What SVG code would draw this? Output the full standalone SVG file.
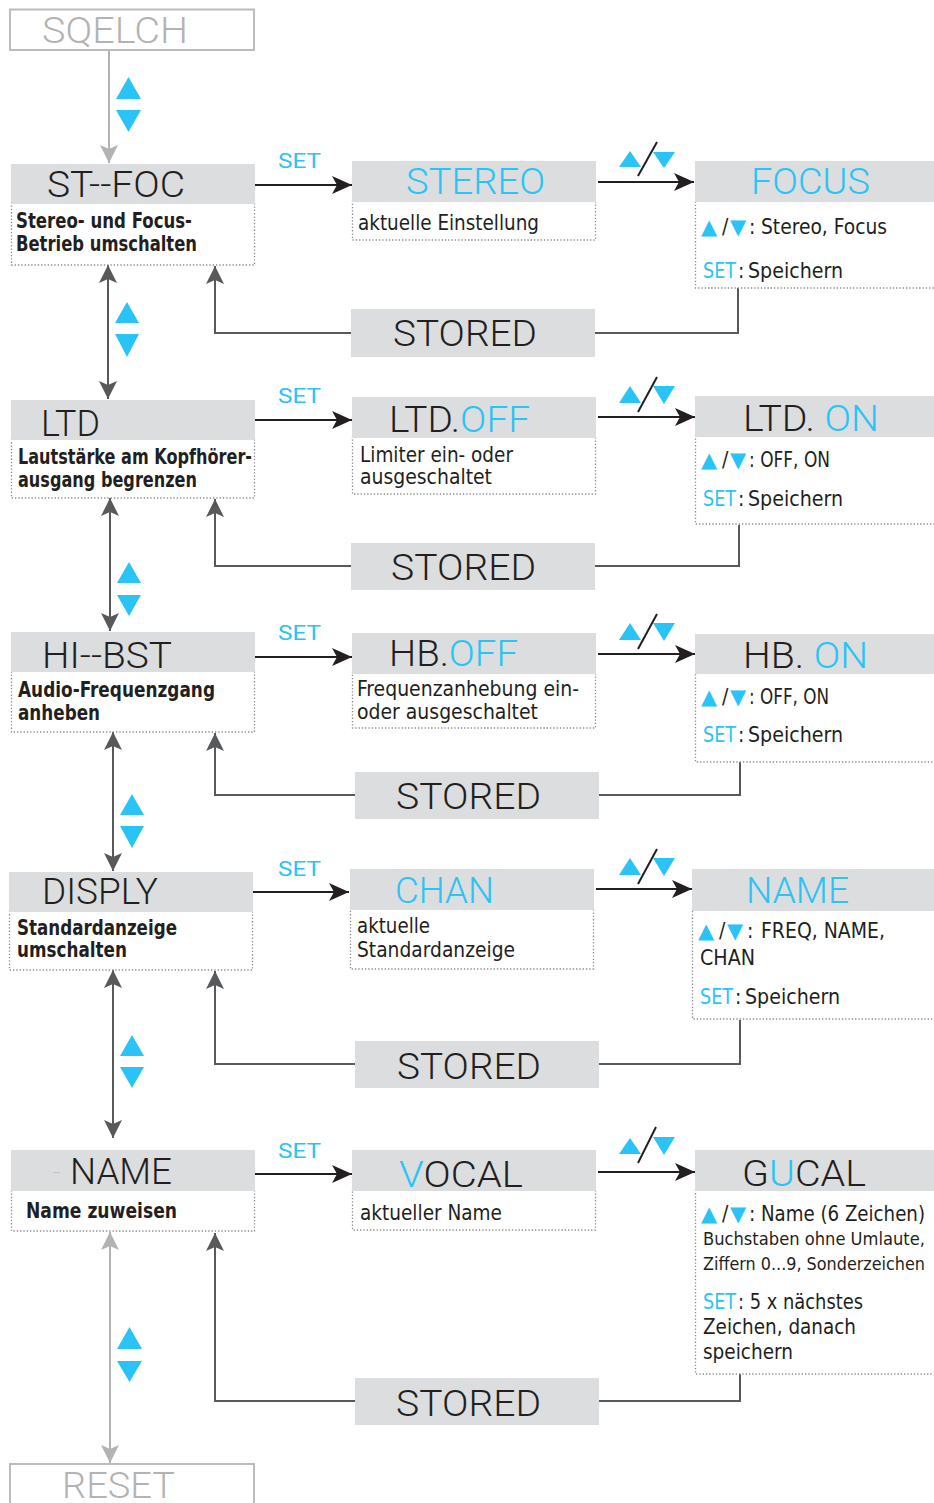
<svg xmlns="http://www.w3.org/2000/svg" width="934" height="1503" viewBox="0 0 934 1503">
<style>
.hd{font-family:Roboto,"Liberation Sans",sans-serif;font-weight:300;font-size:37px;fill:#231f20}
.gr{fill:#b3b3b3}
.t{font-family:"Liberation Sans Narrow","DejaVu Sans Condensed","Liberation Sans",sans-serif;font-size:21px;fill:#231f20}
.tb{font-family:"Liberation Sans Narrow","DejaVu Sans Condensed","Liberation Sans",sans-serif;font-size:22px;font-weight:bold;fill:#231f20}
.ts{font-family:"Liberation Sans Narrow","DejaVu Sans Condensed","Liberation Sans",sans-serif;font-size:18.5px;fill:#231f20}
.sym{font-family:"DejaVu Sans",sans-serif;font-size:21px;fill:#29c4f5}
.set{font-family:Roboto,"Liberation Sans",sans-serif;font-weight:400;font-size:21px;fill:#29c4f5}
.hbox{fill:#dcdddf}
.dbox{fill:none;stroke:#8c8c8c;stroke-width:1.3;stroke-dasharray:1.3 2}
.obox{fill:none;stroke:#bcbcbc;stroke-width:2}
.ab{stroke:#231f20;stroke-width:2.2;fill:none;marker-end:url(#ahB)}
.ag{stroke:#58595b;stroke-width:2;fill:none}
.al{stroke:#b3b3b3;stroke-width:2;fill:none}
.tri{fill:#29c4f5}
.sl{stroke:#231f20;stroke-width:2}
.b{fill:#29c4f5}
</style>
<defs>
<marker id="ahB" viewBox="0 0 20 18" refX="20" refY="9" markerWidth="20" markerHeight="18" orient="auto" markerUnits="userSpaceOnUse"><path d="M0,0 L20,9 L0,18 L5,9 z" fill="#231f20"/></marker>
<marker id="ahG" viewBox="0 0 18 18" refX="18" refY="9" markerWidth="18" markerHeight="18" orient="auto-start-reverse" markerUnits="userSpaceOnUse"><path d="M0,0 L18,9 L0,18 L4,9 z" fill="#58595b"/></marker>
<marker id="ahL" viewBox="0 0 18 18" refX="18" refY="9" markerWidth="18" markerHeight="18" orient="auto-start-reverse" markerUnits="userSpaceOnUse"><path d="M0,0 L18,9 L0,18 L4,9 z" fill="#b3b3b3"/></marker>
</defs>
<rect width="934" height="1503" fill="#ffffff"/>

<g id="connectors">
<line class="al" x1="109" y1="50" x2="109" y2="163" marker-end="url(#ahL)"/>
<line class="ag" x1="108" y1="265" x2="108" y2="399" marker-start="url(#ahG)" marker-end="url(#ahG)"/>
<line class="ag" x1="110" y1="498" x2="110" y2="631" marker-start="url(#ahG)" marker-end="url(#ahG)"/>
<line class="ag" x1="113" y1="732" x2="113" y2="871" marker-start="url(#ahG)" marker-end="url(#ahG)"/>
<line class="ag" x1="113" y1="970" x2="113" y2="1138" marker-start="url(#ahG)" marker-end="url(#ahG)"/>
<line class="al" x1="110" y1="1232" x2="110" y2="1463" marker-start="url(#ahL)" marker-end="url(#ahL)"/>

<line class="ab" x1="255" y1="185" x2="352" y2="185"/>
<line class="ab" x1="598" y1="182" x2="694" y2="182"/>
<line class="ab" x1="255" y1="420" x2="352" y2="420"/>
<line class="ab" x1="598" y1="417" x2="695" y2="417"/>
<line class="ab" x1="255" y1="657" x2="352" y2="657"/>
<line class="ab" x1="598" y1="654" x2="695" y2="654"/>
<line class="ab" x1="253" y1="892" x2="349" y2="892"/>
<line class="ab" x1="596" y1="889" x2="692" y2="889"/>
<line class="ab" x1="255" y1="1174" x2="352" y2="1174"/>
<line class="ab" x1="598" y1="1172" x2="695" y2="1172"/>

<path class="ag" d="M738,288 V333 H595"/>
<path class="ag" d="M351,333 H215 V266" marker-end="url(#ahG)"/>
<path class="ag" d="M739,525 V566 H595"/>
<path class="ag" d="M351,566 H215 V499" marker-end="url(#ahG)"/>
<path class="ag" d="M740,762 V795 H599"/>
<path class="ag" d="M355,795 H215 V733" marker-end="url(#ahG)"/>
<path class="ag" d="M740,1020 V1064 H599"/>
<path class="ag" d="M355,1064 H215 V971" marker-end="url(#ahG)"/>
<path class="ag" d="M740,1374 V1401 H599"/>
<path class="ag" d="M355,1401 H215 V1233" marker-end="url(#ahG)"/>

<text class="set" x="278" y="168" textLength="43" lengthAdjust="spacingAndGlyphs">SET</text>
<text class="set" x="278" y="403" textLength="43" lengthAdjust="spacingAndGlyphs">SET</text>
<text class="set" x="278" y="640" textLength="43" lengthAdjust="spacingAndGlyphs">SET</text>
<text class="set" x="278" y="876" textLength="43" lengthAdjust="spacingAndGlyphs">SET</text>
<text class="set" x="278" y="1158" textLength="43" lengthAdjust="spacingAndGlyphs">SET</text>

<polygon class="tri" points="116,99 128.5,77 141,99"/>
<polygon class="tri" points="116,110 141,110 128.5,132"/>
<polygon class="tri" points="115,323 127,302 139,323"/>
<polygon class="tri" points="115,334 139,334 127,357"/>
<polygon class="tri" points="117,583 129,562 141,583"/>
<polygon class="tri" points="117,595 141,595 129,616"/>
<polygon class="tri" points="120,815 132,794 144,815"/>
<polygon class="tri" points="120,826 144,826 132,848"/>
<polygon class="tri" points="120,1056 132,1035 144,1056"/>
<polygon class="tri" points="120,1067 144,1067 132,1088"/>
<polygon class="tri" points="117,1349 129.5,1327 142,1349"/>
<polygon class="tri" points="117,1361 142,1361 129.5,1382"/>

<polygon class="tri" points="619,167 630,151 641,167"/>
<polygon class="tri" points="653,152 675,152 664,168"/>
<line class="sl" x1="638" y1="176" x2="657" y2="142"/>
<polygon class="tri" points="619,403 630,386 641,403"/>
<polygon class="tri" points="653,386 675,386 664,404"/>
<line class="sl" x1="638" y1="412" x2="657" y2="377"/>
<polygon class="tri" points="619,640 630,623 641,640"/>
<polygon class="tri" points="653,623 675,623 664,641"/>
<line class="sl" x1="638" y1="649" x2="657" y2="614"/>
<polygon class="tri" points="619,875 630,858 641,875"/>
<polygon class="tri" points="653,858 675,858 664,876"/>
<line class="sl" x1="638" y1="884" x2="657" y2="849"/>
<polygon class="tri" points="619,1154 630,1138 641,1154"/>
<polygon class="tri" points="653,1137 675,1137 664,1155"/>
<line class="sl" x1="638" y1="1163" x2="656" y2="1127"/>
</g>

<g id="sqelch">
<rect class="obox" x="10" y="9.5" width="244" height="40.5"/>
<text class="hd gr" x="42" y="43" textLength="146" lengthAdjust="spacingAndGlyphs">SQELCH</text>
</g>

<g id="st-foc">
<rect class="dbox" x="11.5" y="202" width="243" height="63"/>
<rect class="hbox" x="11" y="164" width="244" height="40"/>
<text class="hd" x="47" y="197" textLength="138" lengthAdjust="spacingAndGlyphs">ST--FOC</text>
<text class="tb" x="16" y="228" textLength="176" lengthAdjust="spacingAndGlyphs">Stereo- und Focus-</text>
<text class="tb" x="16" y="251" textLength="181" lengthAdjust="spacingAndGlyphs">Betrieb umschalten</text>
</g>

<g id="stereo">
<rect class="dbox" x="352.5" y="200" width="243" height="40"/>
<rect class="hbox" x="352" y="161" width="244" height="41"/>
<text class="hd b" x="406" y="194" textLength="139" lengthAdjust="spacingAndGlyphs">STEREO</text>
<text class="t" x="358" y="230" textLength="181" lengthAdjust="spacingAndGlyphs">aktuelle Einstellung</text>
</g>

<g id="focus">
<rect class="dbox" x="695.5" y="200" width="250" height="88"/>
<rect class="hbox" x="695" y="161" width="240" height="41"/>
<text class="hd b" x="751" y="194" textLength="119" lengthAdjust="spacingAndGlyphs">FOCUS</text>
<text class="sym" x="701" y="234">▲</text>
<text class="t" x="722" y="234">/</text>
<text class="sym" x="730" y="234">▼</text>
<text class="t" x="749" y="234">:</text>
<text class="t" x="761" y="234" textLength="126" lengthAdjust="spacingAndGlyphs">Stereo, Focus</text>
<text class="t b" x="703" y="278" textLength="33" lengthAdjust="spacingAndGlyphs">SET</text>
<text class="t" x="738" y="278">:</text>
<text class="t" x="748" y="278" textLength="95" lengthAdjust="spacingAndGlyphs">Speichern</text>
</g>

<g id="stored-1">
<rect class="hbox" x="351" y="309" width="244" height="48"/>
<text class="hd" x="393" y="346" textLength="144" lengthAdjust="spacingAndGlyphs">STORED</text>
</g>

<g id="ltd">
<rect class="dbox" x="11.5" y="438" width="243" height="60"/>
<rect class="hbox" x="11" y="400" width="244" height="40"/>
<text class="hd" x="41" y="436" textLength="59" lengthAdjust="spacingAndGlyphs">LTD</text>
<text class="tb" x="18" y="464" textLength="234" lengthAdjust="spacingAndGlyphs">Lautstärke am Kopfhörer-</text>
<text class="tb" x="18" y="487" textLength="179" lengthAdjust="spacingAndGlyphs">ausgang begrenzen</text>
</g>

<g id="ltd-off">
<rect class="dbox" x="352.5" y="436" width="243" height="58"/>
<rect class="hbox" x="352" y="397" width="244" height="41"/>
<text class="hd" x="389" y="432" textLength="141" lengthAdjust="spacingAndGlyphs">LTD.<tspan class="b">OFF</tspan></text>
<text class="t" x="360" y="462" textLength="153" lengthAdjust="spacingAndGlyphs">Limiter ein- oder</text>
<text class="t" x="360" y="484" textLength="132" lengthAdjust="spacingAndGlyphs">ausgeschaltet</text>
</g>

<g id="ltd-on">
<rect class="dbox" x="695.5" y="435" width="250" height="89"/>
<rect class="hbox" x="695" y="396" width="240" height="41"/>
<text class="hd" x="743" y="431" textLength="136" lengthAdjust="spacingAndGlyphs">LTD. <tspan class="b">ON</tspan></text>
<text class="sym" x="701" y="467">▲</text>
<text class="t" x="722" y="467">/</text>
<text class="sym" x="730" y="467">▼</text>
<text class="t" x="749" y="467" textLength="81" lengthAdjust="spacingAndGlyphs">: OFF, ON</text>
<text class="t b" x="703" y="506" textLength="33" lengthAdjust="spacingAndGlyphs">SET</text>
<text class="t" x="738" y="506">:</text>
<text class="t" x="748" y="506" textLength="95" lengthAdjust="spacingAndGlyphs">Speichern</text>
</g>

<g id="stored-2">
<rect class="hbox" x="351" y="543" width="244" height="47"/>
<text class="hd" x="391" y="580" textLength="145" lengthAdjust="spacingAndGlyphs">STORED</text>
</g>

<g id="hi-bst">
<rect class="dbox" x="11.5" y="670" width="243" height="62"/>
<rect class="hbox" x="11" y="632" width="244" height="40"/>
<text class="hd" x="42" y="668" textLength="130" lengthAdjust="spacingAndGlyphs">HI--BST</text>
<text class="tb" x="18" y="697" textLength="197" lengthAdjust="spacingAndGlyphs">Audio-Frequenzgang</text>
<text class="tb" x="18" y="720" textLength="82" lengthAdjust="spacingAndGlyphs">anheben</text>
</g>

<g id="hb-off">
<rect class="dbox" x="352.5" y="672" width="243" height="56"/>
<rect class="hbox" x="352" y="633" width="244" height="41"/>
<text class="hd" x="389" y="666" textLength="129" lengthAdjust="spacingAndGlyphs">HB.<tspan class="b">OFF</tspan></text>
<text class="t" x="357" y="696" textLength="222" lengthAdjust="spacingAndGlyphs">Frequenzanhebung ein-</text>
<text class="t" x="357" y="719" textLength="181" lengthAdjust="spacingAndGlyphs">oder ausgeschaltet</text>
</g>

<g id="hb-on">
<rect class="dbox" x="695.5" y="672" width="250" height="90"/>
<rect class="hbox" x="695" y="634" width="240" height="40"/>
<text class="hd" x="743" y="668" textLength="125" lengthAdjust="spacingAndGlyphs">HB. <tspan class="b">ON</tspan></text>
<text class="sym" x="701" y="704">▲</text>
<text class="t" x="722" y="704">/</text>
<text class="sym" x="730" y="704">▼</text>
<text class="t" x="749" y="704" textLength="80" lengthAdjust="spacingAndGlyphs">: OFF, ON</text>
<text class="t b" x="703" y="742" textLength="33" lengthAdjust="spacingAndGlyphs">SET</text>
<text class="t" x="738" y="742">:</text>
<text class="t" x="748" y="742" textLength="95" lengthAdjust="spacingAndGlyphs">Speichern</text>
</g>

<g id="stored-3">
<rect class="hbox" x="355" y="772" width="244" height="47"/>
<text class="hd" x="396" y="809" textLength="145" lengthAdjust="spacingAndGlyphs">STORED</text>
</g>

<g id="disply">
<rect class="dbox" x="9.5" y="910" width="243" height="60"/>
<rect class="hbox" x="9" y="872" width="244" height="40"/>
<text class="hd" x="42" y="904" textLength="116" lengthAdjust="spacingAndGlyphs">DISPLY</text>
<text class="tb" x="17" y="935" textLength="160" lengthAdjust="spacingAndGlyphs">Standardanzeige</text>
<text class="tb" x="17" y="957" textLength="110" lengthAdjust="spacingAndGlyphs">umschalten</text>
</g>

<g id="chan">
<rect class="dbox" x="350.5" y="908" width="243" height="61"/>
<rect class="hbox" x="350" y="869" width="244" height="41"/>
<text class="hd b" x="395" y="903" textLength="99" lengthAdjust="spacingAndGlyphs">CHAN</text>
<text class="t" x="357" y="933" textLength="73" lengthAdjust="spacingAndGlyphs">aktuelle</text>
<text class="t" x="357" y="957" textLength="158" lengthAdjust="spacingAndGlyphs">Standardanzeige</text>
</g>

<g id="name-sel">
<rect class="dbox" x="692.5" y="909" width="253" height="110"/>
<rect class="hbox" x="692" y="869" width="243" height="42"/>
<text class="hd b" x="746" y="903" textLength="103" lengthAdjust="spacingAndGlyphs">NAME</text>
<text class="sym" x="698" y="938">▲</text>
<text class="t" x="719" y="938">/</text>
<text class="sym" x="727" y="938">▼</text>
<text class="t" x="747" y="938">:</text>
<text class="t" x="761" y="938" textLength="124" lengthAdjust="spacingAndGlyphs">FREQ, NAME,</text>
<text class="t" x="700" y="965" textLength="55" lengthAdjust="spacingAndGlyphs">CHAN</text>
<text class="t b" x="700" y="1004" textLength="33" lengthAdjust="spacingAndGlyphs">SET</text>
<text class="t" x="735" y="1004">:</text>
<text class="t" x="745" y="1004" textLength="95" lengthAdjust="spacingAndGlyphs">Speichern</text>
</g>

<g id="stored-4">
<rect class="hbox" x="355" y="1041" width="244" height="47"/>
<text class="hd" x="397" y="1079" textLength="144" lengthAdjust="spacingAndGlyphs">STORED</text>
</g>

<g id="name">
<rect class="dbox" x="11.5" y="1189" width="243" height="42"/>
<rect class="hbox" x="11" y="1150" width="244" height="41"/>
<rect x="53" y="1172" width="7" height="1.2" fill="#c9c9c9"/>
<text class="hd" x="70" y="1184" textLength="102" lengthAdjust="spacingAndGlyphs">NAME</text>
<text class="tb" x="26" y="1218" textLength="151" lengthAdjust="spacingAndGlyphs">Name zuweisen</text>
</g>

<g id="vocal">
<rect class="dbox" x="352.5" y="1189" width="243" height="41"/>
<rect class="hbox" x="352" y="1150" width="244" height="41"/>
<text class="hd" x="399" y="1187" textLength="124" lengthAdjust="spacingAndGlyphs"><tspan class="b">V</tspan>OCAL</text>
<text class="t" x="360" y="1220" textLength="142" lengthAdjust="spacingAndGlyphs">aktueller Name</text>
</g>

<g id="gucal">
<rect class="dbox" x="695.5" y="1189" width="250" height="185"/>
<rect class="hbox" x="695" y="1150" width="240" height="41"/>
<text class="hd" x="742" y="1186" textLength="124" lengthAdjust="spacingAndGlyphs">G<tspan class="b">U</tspan>CAL</text>
<text class="sym" x="701" y="1221">▲</text>
<text class="t" x="722" y="1221">/</text>
<text class="sym" x="730" y="1221">▼</text>
<text class="t" x="749" y="1221">:</text>
<text class="t" x="761" y="1221" textLength="164" lengthAdjust="spacingAndGlyphs">Name (6 Zeichen)</text>
<text class="ts" x="703" y="1245" textLength="222" lengthAdjust="spacingAndGlyphs">Buchstaben ohne Umlaute,</text>
<text class="ts" x="703" y="1270" textLength="222" lengthAdjust="spacingAndGlyphs">Ziffern 0...9, Sonderzeichen</text>
<text class="t b" x="703" y="1309" textLength="33" lengthAdjust="spacingAndGlyphs">SET</text>
<text class="t" x="738" y="1309" textLength="125" lengthAdjust="spacingAndGlyphs">: 5 x nächstes</text>
<text class="t" x="703" y="1334" textLength="153" lengthAdjust="spacingAndGlyphs">Zeichen, danach</text>
<text class="t" x="703" y="1359" textLength="90" lengthAdjust="spacingAndGlyphs">speichern</text>
</g>

<g id="stored-5">
<rect class="hbox" x="355" y="1378" width="244" height="47"/>
<text class="hd" x="396" y="1416" textLength="145" lengthAdjust="spacingAndGlyphs">STORED</text>
</g>

<g id="reset">
<rect class="obox" x="10" y="1464" width="244" height="60"/>
<text class="hd gr" x="62" y="1498" textLength="113" lengthAdjust="spacingAndGlyphs">RESET</text>
</g>
</svg>
